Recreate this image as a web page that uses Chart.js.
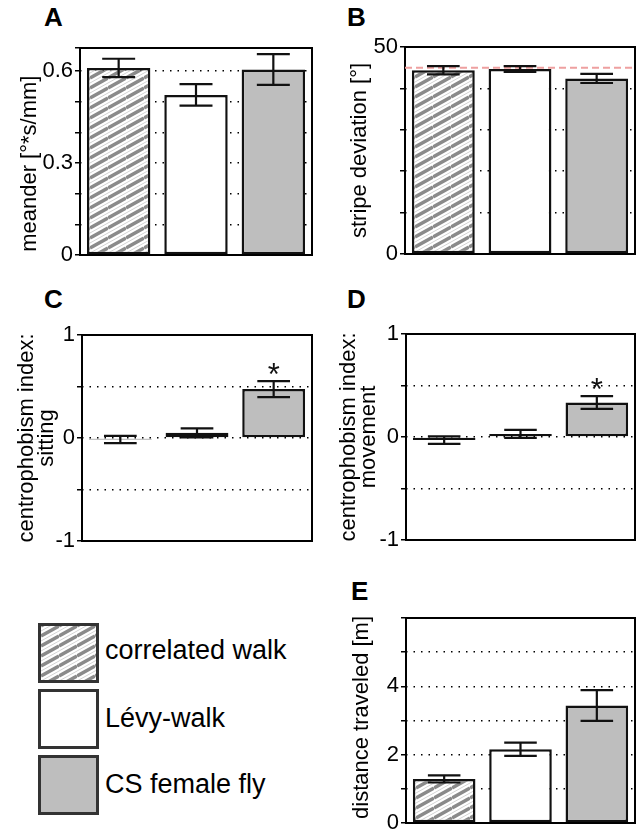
<!DOCTYPE html>
<html lang="en">
<head>
<meta charset="UTF-8" />
<title>Walk models vs. flies</title>
<script src="https://cdn.jsdelivr.net/npm/chart.js"></script>
<style>
  body { margin: 0; background: #fff; font-family: "Liberation Sans", Arial, sans-serif; }
  #fig { position: relative; width: 643px; height: 833px; overflow: hidden; }
  canvas { position: absolute; }
  .letter { position: absolute; font-weight: bold; font-size: 26px; line-height: 26px; }
  .key { position: absolute; left: 38px; width: 61px; height: 60px; border: 3px solid #333; box-sizing: border-box; }
  .keytext { position: absolute; left: 105px; font-size: 27px; line-height: 27px; white-space: nowrap; }
</style>
</head>
<body>
<div id="fig">
  <div class="letter" style="left:44px;top:4px">A</div>
  <div class="letter" style="left:347px;top:4px">B</div>
  <div class="letter" style="left:44px;top:286px">C</div>
  <div class="letter" style="left:347px;top:286px">D</div>
  <div class="letter" style="left:351px;top:578px">E</div>

  <canvas id="cA" width="322" height="247" style="left:0;top:28px"></canvas>
  <canvas id="cB" width="320" height="247" style="left:325px;top:27px"></canvas>
  <canvas id="cC" width="320" height="246" style="left:2px;top:315px"></canvas>
  <canvas id="cD" width="319" height="246" style="left:326px;top:314px"></canvas>
  <canvas id="cE" width="319" height="245" style="left:326px;top:598px"></canvas>
  <div id="legend"></div>
</div>

<script>
  const groups = ['correlated walk', 'Lévy-walk', 'CS female fly'];

  // A: meander
  const meander = [0.61, 0.522, 0.605];
  const meanderErr = [0.03, 0.035, 0.05];
  const meanderTicks = [0, 0.3, 0.6];

  // B: stripe deviation, dashed line = chance level
  const stripe = [44.4, 44.7, 42.4];
  const stripeErr = [1.0, 0.7, 1.1];
  const stripeTicks = [0, 50];
  const stripeChance = 45;

  // C / D: centrophobism
  const sitting = [-0.015, 0.05, 0.475];
  const sittingErr = [0.035, 0.044, 0.078];
  const movement = [-0.03, 0.03, 0.335];
  const movementErr = [0.037, 0.039, 0.062];
  const centroTicks = [-1, 0, 1];
  const centroSig = ['', '', '*'];

  // E: distance traveled
  const distance = [1.29, 2.16, 3.44];
  const distanceErr = [0.105, 0.195, 0.45];
  const distanceTicks = [0, 2, 4];

  Chart.defaults.font.family = '"Liberation Sans", Arial, sans-serif';
  Chart.defaults.color = '#000';

  // hatch for the correlated walk bars
  function hatchTile() {
    const c = document.createElement('canvas');
    c.width = 18; c.height = 10;
    const g = c.getContext('2d');
    g.fillStyle = '#fff';
    g.fillRect(0, 0, 18, 10);
    for (let k = -1; k <= 2; k++) {
      g.strokeStyle = '#8a8a8a'; g.lineWidth = 3.5;
      g.beginPath(); g.moveTo(0, 10 * k); g.lineTo(18, 10 * k - 10); g.stroke();
      g.strokeStyle = '#d4d4d4'; g.lineWidth = 1;
      g.beginPath(); g.moveTo(0, 10 * k + 5); g.lineTo(18, 10 * k - 5); g.stroke();
    }
    return c;
  }
  const tile = hatchTile();
  const hatch = document.createElement('canvas').getContext('2d').createPattern(tile, 'repeat');
  const fills = [hatch, '#ffffff', '#bebebe'];

  const decor = {
    id: 'decor',
    afterDatasetsDraw(chart, args, opts) {
      const { ctx, chartArea: a, scales: { y } } = chart;
      ctx.save();
      ctx.strokeStyle = '#000';
      ctx.lineWidth = 2;
      ctx.strokeRect(a.left, a.top, a.width, a.height);

      if (opts.refValue != null) {
        const yy = y.getPixelForValue(opts.refValue);
        ctx.strokeStyle = '#eea0a0';
        ctx.lineWidth = 2;
        ctx.setLineDash([7, 4]);
        ctx.beginPath(); ctx.moveTo(a.left, yy); ctx.lineTo(a.right, yy); ctx.stroke();
        ctx.setLineDash([]);
      }

      const ds = chart.data.datasets[0];
      chart.getDatasetMeta(0).data.forEach((bar, i) => {
        const v = ds.data[i], e = ds.errors[i];
        const yt = y.getPixelForValue(v + e), yb = y.getPixelForValue(v - e);
        const hw = bar.width * 0.26;
        ctx.strokeStyle = '#111';
        ctx.lineWidth = 2.2;
        ctx.beginPath();
        ctx.moveTo(bar.x, yt); ctx.lineTo(bar.x, yb);
        ctx.moveTo(bar.x - hw, yt); ctx.lineTo(bar.x + hw, yt);
        ctx.moveTo(bar.x - hw, yb); ctx.lineTo(bar.x + hw, yb);
        ctx.stroke();
        if (ds.marks && ds.marks[i]) {
          ctx.fillStyle = '#111';
          ctx.font = '31px "Liberation Sans", Arial, sans-serif';
          ctx.textAlign = 'center';
          ctx.textBaseline = 'alphabetic';
          ctx.fillText(ds.marks[i], bar.x, yt + 4);
        }
      });
      ctx.restore();
    }
  };

  function panel(id, values, errs, cfg) {
    return new Chart(document.getElementById(id), {
      type: 'bar',
      data: {
        labels: groups,
        datasets: [{
          data: values,
          errors: errs,
          marks: cfg.marks,
          backgroundColor: fills,
          borderColor: '#111',
          borderWidth: 2.5,
          borderSkipped: false,
          barPercentage: 0.82,
          categoryPercentage: 1
        }]
      },
      options: {
        responsive: false,
        animation: false,
        events: [],
        layout: { padding: { top: 20, bottom: 20, right: 10, left: 0 } },
        plugins: {
          legend: { display: false },
          tooltip: { enabled: false },
          decor: { refValue: cfg.ref }
        },
        scales: {
          x: { display: false },
          y: {
            min: cfg.min,
            max: cfg.max,
            afterFit: s => { s.width = 80; },
            ticks: {
              stepSize: cfg.step,
              autoSkip: false,
              padding: 2,
              // lineHeight 1 so chart.js still allows all the 0.1 steps in A
              font: { size: 22, lineHeight: 1 },
              color: '#000',
              callback: v => {
                const t = cfg.labels.find(l => Math.abs(l - v) < 1e-6);
                return t === undefined ? '' : String(t);
              }
            },
            grid: { color: '#000', lineWidth: 1.5, tickLength: 5, tickColor: '#000', tickWidth: 1.5 },
            border: { display: false, dash: [1.5, 6] },
            title: {
              display: true,
              text: cfg.title,
              color: '#000',
              font: { size: 22, lineHeight: cfg.lh || 1.2 },
              padding: { top: cfg.pad, bottom: 0 }
            }
          }
        }
      },
      plugins: [decor]
    });
  }

  // trailing spaces nudge the rotated label down, as in the original figure
  panel('cA', meander, meanderErr, { min: 0, max: 0.675, step: 0.1, labels: meanderTicks, title: 'meander [°*s/mm]\u00a0\u00a0\u00a0\u00a0', pad: 17 });
  panel('cB', stripe, stripeErr, { min: 0, max: 50, step: 10, labels: stripeTicks, title: 'stripe deviation [°]', pad: 22, ref: stripeChance });
  panel('cC', sitting, sittingErr, { min: -1, max: 1, step: 0.5, labels: centroTicks, title: ['centrophobism index:', 'sitting'], pad: 14, lh: 0.95, marks: centroSig });
  panel('cD', movement, movementErr, { min: -1, max: 1, step: 0.5, labels: centroTicks, title: ['centrophobism index:', 'movement'], pad: 12, lh: 0.95, marks: centroSig });
  panel('cE', distance, distanceErr, { min: 0, max: 6, step: 1, labels: distanceTicks, title: '\u00a0distance traveled [m]', pad: 23 });

  // legend
  const legend = document.getElementById('legend');
  const keyTops = [623, 689, 755];
  groups.forEach((name, i) => {
    const box = document.createElement('div');
    box.className = 'key';
    box.style.top = keyTops[i] + 'px';
    if (i === 0) box.style.backgroundImage = 'url(' + tile.toDataURL() + ')';
    else box.style.backgroundColor = fills[i];
    legend.appendChild(box);
    const txt = document.createElement('div');
    txt.className = 'keytext';
    txt.style.top = (keyTops[i] + 14 + (i > 0 ? 2 : 0)) + 'px';
    txt.textContent = name;
    legend.appendChild(txt);
  });
</script>
</body>
</html>
